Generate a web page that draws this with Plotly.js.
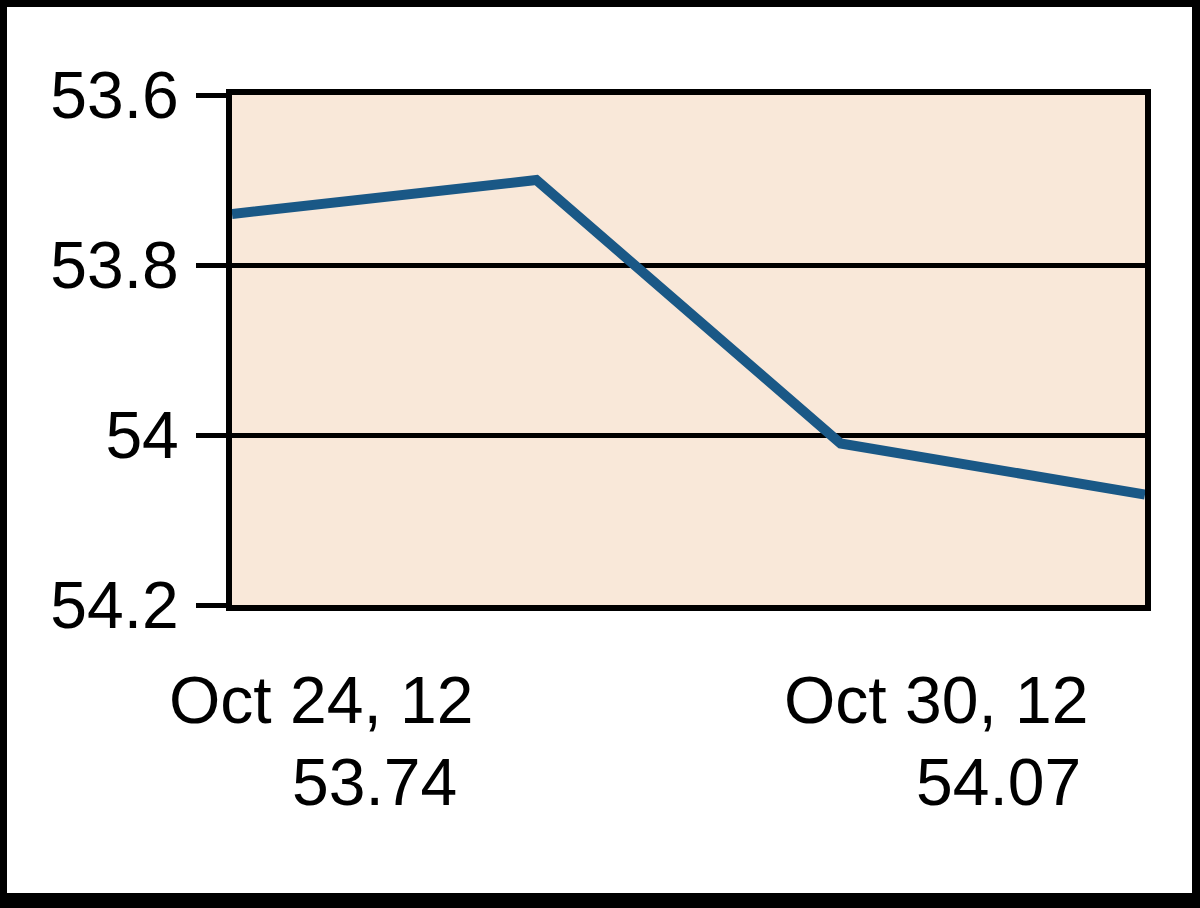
<!DOCTYPE html>
<html>
<head>
<meta charset="utf-8">
<script src="https://cdn.plot.ly/plotly-3.0.1.min.js"></script>
<style>
  html, body { margin: 0; padding: 0; background: #000; width: 1200px; height: 908px; overflow: hidden; }
  #chart { position: absolute; left: 7px; top: 7px; width: 1185px; height: 886px; background: #fff; }
</style>
</head>
<body>
<div id="chart"></div>
<script>
// Data
const pointIndex = [0, 1, 2, 3];
const prices = [53.74, 53.70, 54.01, 54.07];
const startDateLabel = "Oct 24, 12";
const endDateLabel = "Oct 30, 12";
const yTicks = [53.6, 53.8, 54.0, 54.2];

const fontFam = '"Liberation Sans", Arial, sans-serif';

const trace = {
  x: pointIndex,
  y: prices,
  type: 'scatter',
  mode: 'lines',
  line: { color: '#1a5886', width: 10 },
  hoverinfo: 'skip'
};

const lab = (text, x, y) => ({
  text: text, xref: 'paper', yref: 'paper', x: x, y: y,
  xanchor: 'center', yanchor: 'middle', showarrow: false,
  font: { family: fontFam, size: 66, color: '#000' }
});

const layout = {
  width: 1185, height: 886,
  margin: { l: 225, r: 47, t: 88, b: 288 },
  paper_bgcolor: '#ffffff',
  plot_bgcolor: '#f9e8d9',
  showlegend: false,
  xaxis: {
    range: [0, 3],
    showticklabels: false, ticks: '', showgrid: false, zeroline: false,
    showline: true, mirror: true, linecolor: '#000', linewidth: 6
  },
  yaxis: {
    range: [54.2, 53.6],
    tickvals: yTicks,
    ticks: 'outside', ticklen: 30, tickwidth: 5, tickcolor: '#000',
    showgrid: true, gridcolor: '#000', gridwidth: 5, zeroline: false,
    showline: true, mirror: true, linecolor: '#000', linewidth: 6,
    tickfont: { family: fontFam, size: 66, color: '#000' },
    ticklabelstandoff: 4
  },
  annotations: [
    lab(startDateLabel, 0.0975, -0.186),
    lab(prices[0].toFixed(2), 0.1566, -0.347),
    lab(endDateLabel, 0.772, -0.186),
    lab(prices[prices.length - 1].toFixed(2), 0.839, -0.347)
  ]
};

Plotly.newPlot('chart', [trace], layout, { displayModeBar: false, staticPlot: true });
</script>
</body>
</html>
